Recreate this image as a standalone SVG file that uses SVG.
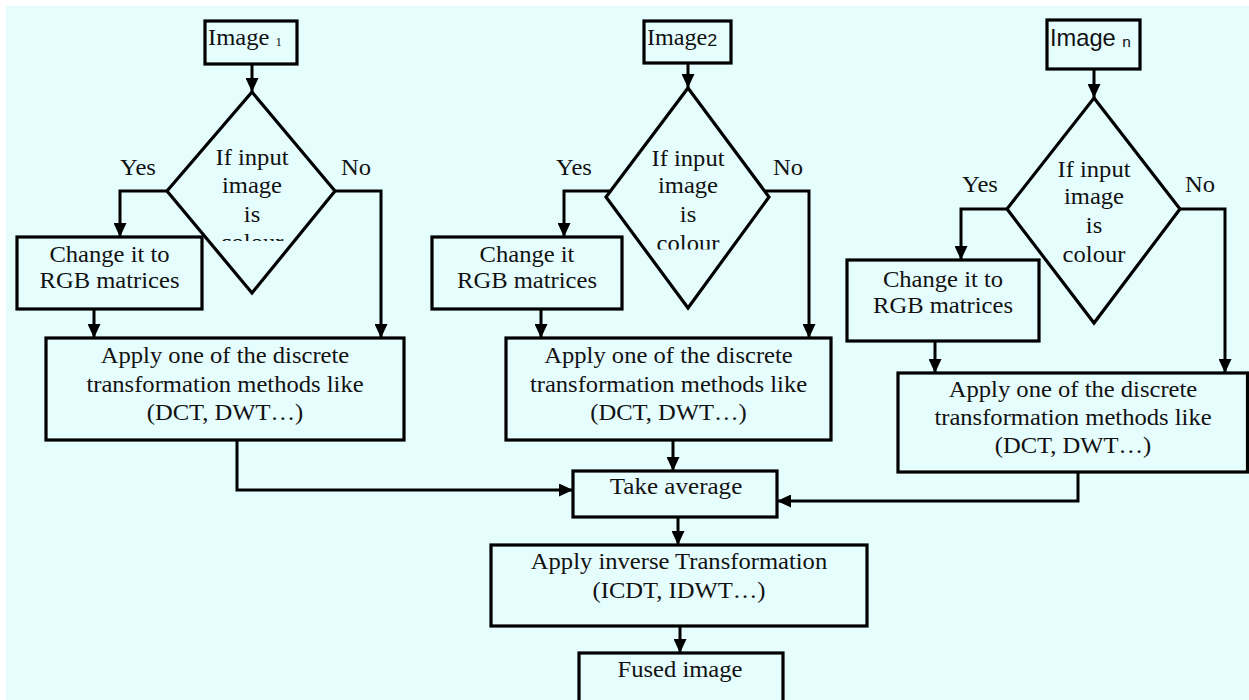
<svg xmlns="http://www.w3.org/2000/svg" width="1249" height="700" viewBox="0 0 1249 700">
<style>
.box{fill:none;stroke:#000;stroke-width:3.2}
.ln{fill:none;stroke:#000;stroke-width:3;marker-end:url(#ah)}
.t{font-family:"Liberation Serif","Times New Roman",serif;font-size:23px;fill:#111;text-anchor:middle}
.ts{font-family:"Liberation Serif","Times New Roman",serif;font-size:23px;fill:#111}
.sa{font-family:"Liberation Sans",Arial,sans-serif;font-size:23px;fill:#111}
</style>
<defs>
<marker id="ah" viewBox="0 0 14 13" refX="14" refY="6.5" markerWidth="14" markerHeight="13" markerUnits="userSpaceOnUse" orient="auto">
<path d="M0,0 L14,6.5 L0,13 z" fill="#000"/>
</marker>
<clipPath id="c1"><rect x="150" y="100" width="200" height="141"/></clipPath>
<clipPath id="c2"><rect x="590" y="100" width="200" height="149.5"/></clipPath>
</defs>
<rect x="6" y="6" width="1243" height="694" fill="#e6fdfd"/>
<g id="connectors">
<path class="ln" d="M252,64 V92"/>
<path class="ln" d="M688,63 V88"/>
<path class="ln" d="M1094,69 V98"/>
<path class="ln" d="M167,191 H120 V237"/>
<path class="ln" d="M335,191 H381 V338"/>
<path class="ln" d="M610,191 H564 V237"/>
<path class="ln" d="M765,191 H809 V338"/>
<path class="ln" d="M1007,209 H961 V260"/>
<path class="ln" d="M1180,209 H1225 V373"/>
<path class="ln" d="M94,309 V338"/>
<path class="ln" d="M541,309 V338"/>
<path class="ln" d="M935,341 V373"/>
<path class="ln" d="M237,440 V490 H573"/>
<path class="ln" d="M673,440 V471"/>
<path class="ln" d="M1078,472 V501 H777"/>
<path class="ln" d="M678,517 V545"/>
<path class="ln" d="M680,626 V653"/>
</g>
<g id="labels">
<text class="t" transform="translate(138 0) scale(1.07 1)" y="175">Yes</text>
<text class="t" transform="translate(356 0) scale(1.07 1)" y="175">No</text>
<text class="t" transform="translate(574 0) scale(1.07 1)" y="175">Yes</text>
<text class="t" transform="translate(788 0) scale(1.07 1)" y="175">No</text>
<text class="t" transform="translate(980 0) scale(1.07 1)" y="192">Yes</text>
<text class="t" transform="translate(1200 0) scale(1.07 1)" y="192">No</text>
</g>
<g id="image1">
<rect class="box" x="205" y="21" width="92" height="43"/>
<text class="ts" transform="translate(208 0) scale(1.07 1)" y="45">Image <tspan style="font-size:12px" dy="1">1</tspan></text>
</g>
<g id="image2">
<rect class="box" x="644" y="21" width="87" height="42"/>
<text class="ts" transform="translate(647 0) scale(1.05 1)" y="45">Image<tspan class="sa" style="font-size:17px" dy="1.5">2</tspan></text>
</g>
<g id="imagen">
<rect class="box" x="1047" y="20" width="93" height="49"/>
<text class="sa" transform="translate(1050 0) scale(1.03 1)" y="46">Image <tspan style="font-size:15px" dy="1">n</tspan></text>
</g>
<g id="decision1">
<polygon class="box" points="252,92 335,191 252,293 167,191"/>
<g clip-path="url(#c1)">
<text class="t" transform="translate(252 0) scale(1.07 1)"><tspan x="0" y="165">If input</tspan><tspan x="0" y="193">image</tspan><tspan x="0" y="222">is</tspan><tspan x="0" y="250">colour</tspan></text>
</g>
</g>
<g id="decision2">
<polygon class="box" points="688,88 769,197 688,308 606,197"/>
<g clip-path="url(#c2)">
<text class="t" transform="translate(688 0) scale(1.07 1)"><tspan x="0" y="166">If input</tspan><tspan x="0" y="193">image</tspan><tspan x="0" y="222">is</tspan><tspan x="0" y="251">colour</tspan></text>
</g>
</g>
<g id="decision3">
<polygon class="box" points="1094,98 1180,209 1094,323 1007,209"/>
<text class="t" transform="translate(1094 0) scale(1.07 1)"><tspan x="0" y="177">If input</tspan><tspan x="0" y="204">image</tspan><tspan x="0" y="233">is</tspan><tspan x="0" y="262">colour</tspan></text>
</g>
<g id="change1">
<rect class="box" x="17" y="237" width="185" height="72"/>
<text class="t" transform="translate(109.5 0) scale(1.07 1)"><tspan x="0" y="262">Change it to</tspan><tspan x="0" y="288">RGB matrices</tspan></text>
</g>
<g id="change2">
<rect class="box" x="432" y="237" width="190" height="72"/>
<text class="t" transform="translate(527 0) scale(1.07 1)"><tspan x="0" y="262">Change it</tspan><tspan x="0" y="288">RGB matrices</tspan></text>
</g>
<g id="change3">
<rect class="box" x="847" y="260" width="192" height="81"/>
<text class="t" transform="translate(943 0) scale(1.07 1)"><tspan x="0" y="287">Change it to</tspan><tspan x="0" y="313">RGB matrices</tspan></text>
</g>
<g id="apply1">
<rect class="box" x="46" y="338" width="358" height="102"/>
<text class="t" transform="translate(225 0) scale(1.07 1)"><tspan x="0" y="363">Apply one of the discrete</tspan><tspan x="0" y="392">transformation methods like</tspan><tspan x="0" y="420">(DCT, DWT…)</tspan></text>
</g>
<g id="apply2">
<rect class="box" x="506" y="338" width="325" height="102"/>
<text class="t" transform="translate(668.5 0) scale(1.07 1)"><tspan x="0" y="363">Apply one of the discrete</tspan><tspan x="0" y="392">transformation methods like</tspan><tspan x="0" y="420">(DCT, DWT…)</tspan></text>
</g>
<g id="apply3">
<rect class="box" x="898" y="373" width="349.5" height="99"/>
<text class="t" transform="translate(1073 0) scale(1.07 1)"><tspan x="0" y="397">Apply one of the discrete</tspan><tspan x="0" y="425">transformation methods like</tspan><tspan x="0" y="453">(DCT, DWT…)</tspan></text>
</g>
<g id="average">
<rect class="box" x="573" y="471" width="204" height="46"/>
<text class="t" transform="translate(676 0) scale(1.09 1)" y="494">Take average</text>
</g>
<g id="inverse">
<rect class="box" x="491" y="545" width="376" height="81"/>
<text class="t" transform="translate(679 0) scale(1.07 1)"><tspan x="0" y="569">Apply inverse Transformation</tspan><tspan x="0" y="598">(ICDT, IDWT…)</tspan></text>
</g>
<g id="fused">
<rect class="box" x="579" y="653" width="204" height="52"/>
<text class="t" transform="translate(680 0) scale(1.07 1)" y="677">Fused image</text>
</g>
</svg>
